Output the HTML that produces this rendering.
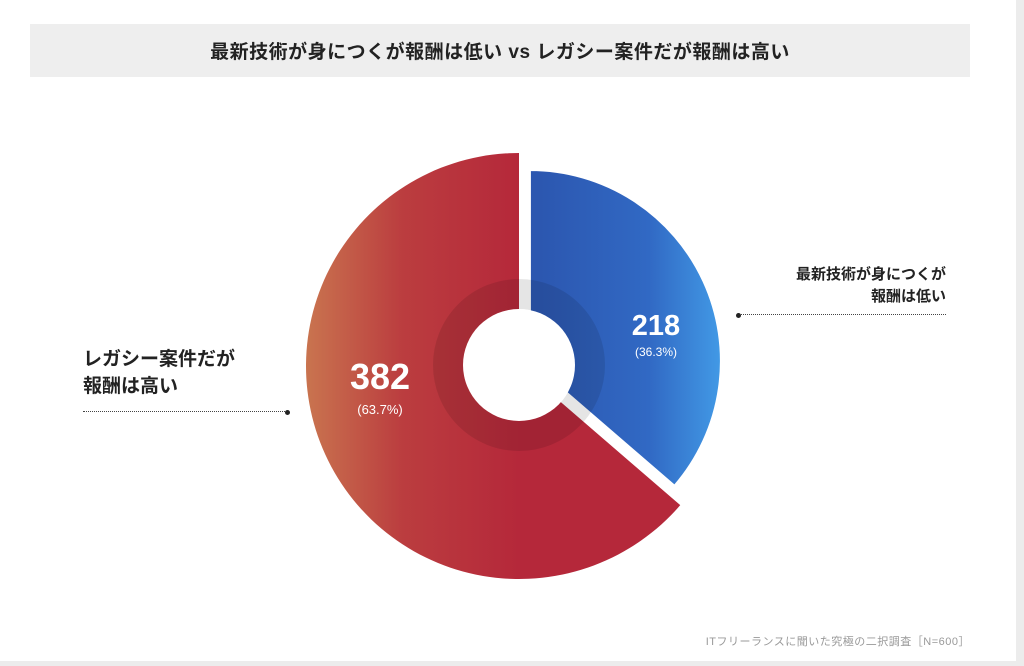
<!DOCTYPE html>
<html><head><meta charset="utf-8"><style>
body{margin:0;width:1024px;height:666px;background:#fff;overflow:hidden;font-family:"Liberation Sans","Noto Sans CJK JP",sans-serif;position:relative}
.t{position:absolute;white-space:nowrap}
</style></head><body>
<div style="position:absolute;left:1016px;top:0;width:8px;height:666px;background:#ececec"></div>
<div style="position:absolute;left:0;top:661px;width:1024px;height:5px;background:#ececec"></div>
<div style="position:absolute;left:30px;top:24px;width:940px;height:53px;background:#eeeeee"></div>
<div class="t" style="left:30px;width:940px;top:37px;text-align:center;font-size:19px;font-weight:bold;color:#222;letter-spacing:0.5px">最新技術が身につくが報酬は低い vs レガシー案件だが報酬は高い</div>
<svg id="c" width="1024" height="666" style="position:absolute;left:0;top:0">
<defs>
<linearGradient id="gr" x1="306" y1="0" x2="520" y2="0" gradientUnits="userSpaceOnUse"><stop offset="0" stop-color="#c9744f"/><stop offset="0.45" stop-color="#bb3d3f"/><stop offset="1" stop-color="#b5283a"/></linearGradient>
<linearGradient id="gb" x1="540" y1="0" x2="722" y2="0" gradientUnits="userSpaceOnUse"><stop offset="0" stop-color="#2c57b0"/><stop offset="0.6" stop-color="#3169c4"/><stop offset="1" stop-color="#429ae6"/></linearGradient>
</defs>
</svg>
<div class="t" style="right:78px;top:264px;text-align:right;font-size:15px;font-weight:bold;color:#222;line-height:22px">最新技術が身につくが<br>報酬は低い</div>
<div style="position:absolute;left:738px;top:314px;width:208px;border-top:1.5px dotted #444"></div>
<div style="position:absolute;left:736px;top:313px;width:5px;height:5px;border-radius:50%;background:#222"></div>
<div class="t" style="left:83px;top:346px;font-size:19px;font-weight:bold;color:#222;line-height:27px">レガシー案件だが<br>報酬は高い</div>
<div style="position:absolute;left:83px;top:411px;width:204px;border-top:1.5px dotted #444"></div>
<div style="position:absolute;left:285px;top:410px;width:5px;height:5px;border-radius:50%;background:#222"></div>
<div class="t" style="right:54px;top:633px;font-size:11px;color:#999;letter-spacing:0.5px">ITフリーランスに聞いた究極の二択調査［N=600］</div>
<script>
const categories=["レガシー案件だが報酬は高い","最新技術が身につくが報酬は低い"];
const values=[382,218];
const pctLabels=["(63.7%)","(36.3%)"];
const svg=document.getElementById('c');
const NS='http://www.w3.org/2000/svg';
const cx=519,cy=366;
const total=values.reduce((a,b)=>a+b,0);
function pt(x,y,r,a){return [x+r*Math.sin(a),y-r*Math.cos(a)];}
function arc(x,y,r,a0,a1){const p0=pt(x,y,r,a0),p1=pt(x,y,r,a1);const l=(a1-a0)>Math.PI?1:0;return `M${x},${y}L${p0[0]},${p0[1]}A${r},${r} 0 ${l} 1 ${p1[0]},${p1[1]}Z`;}
const aBlue=values[1]/total*2*Math.PI;
const mid=aBlue/2;
const off=12;
const bx=cx+off*Math.sin(mid),by=cy-off*Math.cos(mid);
const red=document.createElementNS(NS,'path');
red.setAttribute('d',arc(cx,cy,213,aBlue,2*Math.PI));
red.setAttribute('fill','url(#gr)');


svg.appendChild(red);
const blue=document.createElementNS(NS,'path');
blue.setAttribute('d',arc(bx,by,191,0,aBlue));
blue.setAttribute('fill','url(#gb)');
blue.setAttribute('stroke','#fff');blue.setAttribute('stroke-width','2');


svg.appendChild(blue);
const ring=document.createElementNS(NS,'circle');
ring.setAttribute('cx',cx);ring.setAttribute('cy',cy-1);ring.setAttribute('r',71);
ring.setAttribute('fill','none');ring.setAttribute('stroke','rgba(0,0,0,0.1)');ring.setAttribute('stroke-width','30');


svg.appendChild(ring);
const hole=document.createElementNS(NS,'circle');
hole.setAttribute('cx',cx);hole.setAttribute('cy',cy-1);hole.setAttribute('r',56);hole.setAttribute('fill','#fff');


svg.appendChild(hole);
function txt(x,y,s,size,name,w){const t=document.createElementNS(NS,'text');t.setAttribute('x',x);t.setAttribute('y',y);t.setAttribute('text-anchor','middle');t.setAttribute('fill','#fff');t.setAttribute('font-size',size);if(w)t.setAttribute('font-weight',w);t.setAttribute('font-family','"Liberation Sans","Noto Sans CJK JP",sans-serif');t.textContent=s;


svg.appendChild(t);}
txt(380,389,String(values[0]),36,'value-legacy','bold');
txt(380,414,pctLabels[0],13,'pct-legacy');
txt(656,335,String(values[1]),29,'value-new-tech','bold');
txt(656,356,pctLabels[1],12,'pct-new-tech');
</script>
</body></html>
